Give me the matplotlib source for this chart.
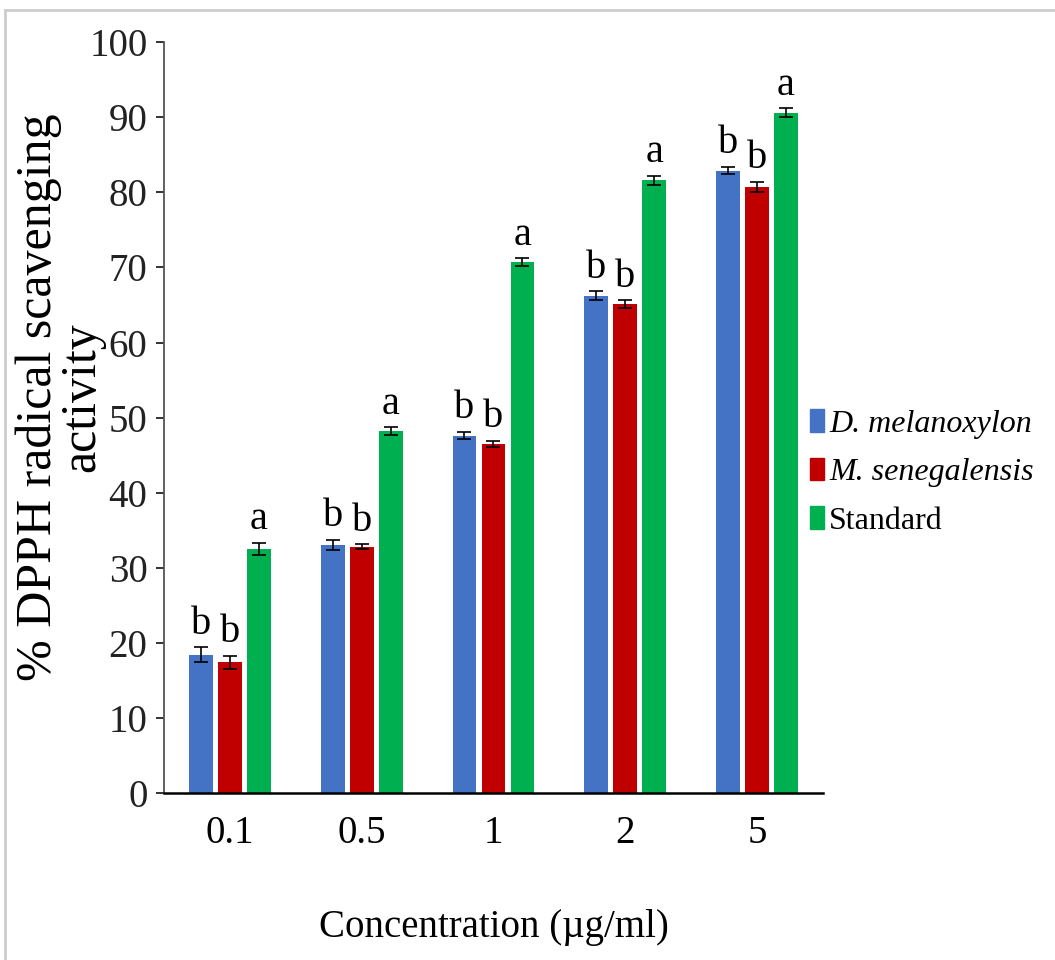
import numpy as np
import matplotlib
matplotlib.use("Agg")
from matplotlib import pyplot as plt
from matplotlib.patches import Patch

# data
concs = ["0.1", "0.5", "1", "2", "5"]
d_mel = [18.4, 33.0, 47.6, 66.2, 82.9]
d_mel_err = [1.0, 0.7, 0.5, 0.6, 0.5]
m_sen = [17.4, 32.8, 46.5, 65.1, 80.7]
m_sen_err = [0.9, 0.3, 0.4, 0.5, 0.7]
standard = [32.5, 48.2, 70.7, 81.6, 90.6]
standard_err = [0.8, 0.5, 0.5, 0.6, 0.6]
letters = [["b", "b", "a"]] * 5

series = [d_mel, m_sen, standard]
errors = [d_mel_err, m_sen_err, standard_err]
names = ["D. melanoxylon", "M. senegalensis", "Standard"]
colors = ["#4472C4", "#C00000", "#00B050"]

plt.rcParams["font.family"] = ["Liberation Serif", "DejaVu Serif"]

fig = plt.figure(figsize=(10.55, 9.6), dpi=100)
ax = fig.add_axes([0.1555, 0.174, 0.6245, 0.782])

x = np.arange(len(concs))
width = 0.18
offsets = [-0.22, 0.0, 0.22]

for i in range(3):
    ax.bar(x + offsets[i], series[i], width, color=colors[i],
           yerr=errors[i], capsize=5,
           error_kw=dict(ecolor="black", elinewidth=1.2, capthick=1.2))
    for j in range(len(concs)):
        ax.text(x[j] + offsets[i], series[i][j] + errors[i][j] + 0.6,
                letters[j][i], ha="center", va="bottom", fontsize=29)

ax.set_xlim(-0.5, 4.5)
ax.set_ylim(0, 100)
ax.set_yticks(range(0, 101, 10))
ax.set_xticks(x)
ax.set_xticklabels(concs)
ax.tick_params(axis="y", direction="out", length=6, width=1.3,
               labelsize=28, pad=6, colors="#222222")
ax.tick_params(axis="x", length=0, labelsize=28, pad=16)
ax.spines["top"].set_visible(False)
ax.spines["right"].set_visible(False)
ax.spines["left"].set_color("#555555")
ax.spines["left"].set_linewidth(1.3)
ax.spines["bottom"].set_linewidth(1.8)

ax.set_xlabel("Concentration (µg/ml)", fontsize=28)
ax.xaxis.set_label_coords(0.5, -0.155)
ax.set_ylabel("% DPPH radical scavenging\nactivity", fontsize=36,
              linespacing=0.9)
ax.yaxis.label.set_verticalalignment("center")
ax.yaxis.set_label_coords(-0.157, 0.527)

handles = [Patch(color=c) for c in colors]
leg = ax.legend(handles, names, loc="center left",
                bbox_to_anchor=(0.98, 0.427), frameon=False,
                fontsize=23, handlelength=0.45, handleheight=0.7,
                handletextpad=0.15, labelspacing=0.6,
                borderpad=0, borderaxespad=0)
leg.get_texts()[0].set_style("italic")
leg.get_texts()[1].set_style("italic")

# light grey frame of the original screenshot
fig.add_artist(plt.Line2D([0.005, 0.005], [0, 0.99], color="#cccccc",
                          lw=2, transform=fig.transFigure))
fig.add_artist(plt.Line2D([0.005, 1], [0.99, 0.99], color="#cccccc",
                          lw=2, transform=fig.transFigure))

fig.savefig("out.png", dpi=100)
